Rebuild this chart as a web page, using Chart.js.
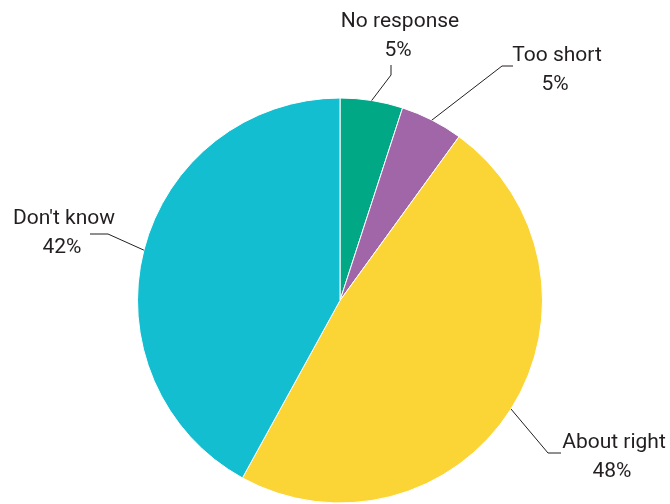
<!DOCTYPE html>
<html>
<head>
<meta charset="utf-8">
<script src="https://cdn.jsdelivr.net/npm/chart.js@4.4.0/dist/chart.umd.min.js"></script>
<style>
  html, body { margin: 0; padding: 0; background: #fff; }
  #wrap { position: relative; width: 670px; height: 504px; }
</style>
</head>
<body>
<div id="wrap"><canvas id="pie"></canvas></div>
<script>
// data
const categories = ["No response", "Too short", "About right", "Don't know"];
const shares = [5, 5, 48, 42];
const sliceColors = ["#00a886", "#a066a8", "#fad535", "#14bed1"];

// leader line elbows / tails and label anchors (label placement only)
const elbows = [[391, 75], [502, 66], [548, 453], [108, 234]];
const tails = [[391, 65], [513, 66], [561, 453], [90, 234]];
const labelPos = [[400, 27], [557, 61], [614, 448], [64, 224]];

const leaderLabels = {
  id: "leaderLabels",
  afterDatasetsDraw(chart) {
    const ctx = chart.ctx;
    const arcs = chart.getDatasetMeta(0).data;
    ctx.save();
    ctx.strokeStyle = "#231f20";
    ctx.lineWidth = 1;
    ctx.fillStyle = "#231f20";
    ctx.font = "21px Roboto";
    ctx.textAlign = "center";
    ctx.textBaseline = "alphabetic";
    arcs.forEach((arc, i) => {
      const p = arc.getProps(["x", "y", "startAngle", "endAngle", "outerRadius"], true);
      const mid = (p.startAngle + p.endAngle) / 2;
      const sx = p.x + Math.cos(mid) * p.outerRadius;
      const sy = p.y + Math.sin(mid) * p.outerRadius;
      ctx.beginPath();
      ctx.moveTo(sx, sy);
      ctx.lineTo(elbows[i][0], elbows[i][1]);
      ctx.lineTo(tails[i][0], tails[i][1]);
      ctx.stroke();
      const [lx, ly] = labelPos[i];
      ctx.fillText(categories[i], lx, ly);
      ctx.fillText(shares[i] + "%", lx - 2, ly + 29);
    });
    ctx.restore();
  }
};

new Chart(document.getElementById("pie"), {
  type: "pie",
  data: {
    labels: categories,
    datasets: [{
      data: shares,
      backgroundColor: sliceColors,
      borderColor: "#ffffff",
      borderWidth: 1
    }]
  },
  options: {
    responsive: true,
    maintainAspectRatio: false,
    animation: false,
    layout: { padding: { top: 97, bottom: 0, left: 137, right: 127 } },
    plugins: {
      legend: { display: false },
      tooltip: { enabled: false }
    }
  },
  plugins: [leaderLabels]
});
</script>
</body>
</html>
